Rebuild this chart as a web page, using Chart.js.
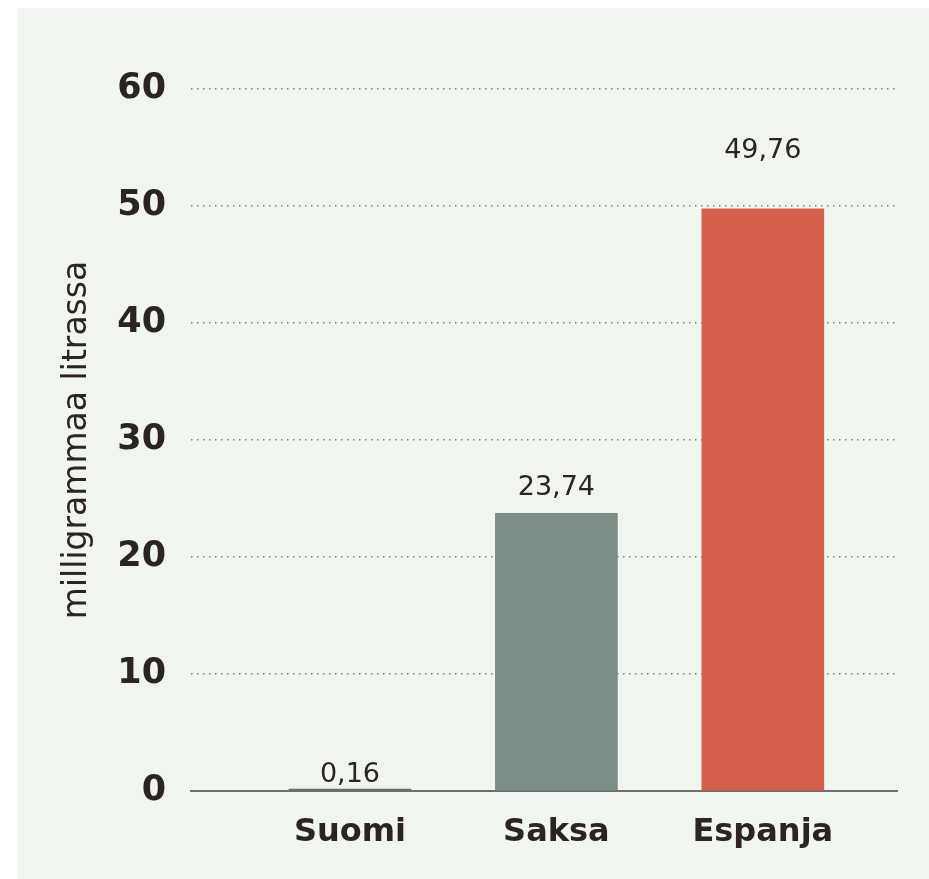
<!DOCTYPE html>
<html>
<head>
<meta charset="utf-8">
<script src="https://cdn.jsdelivr.net/npm/chart.js@4"></script>
<style>
  html, body { margin: 0; padding: 0; background: #ffffff; }
  #panel { position: absolute; left: 18px; top: 8px; width: 911px; height: 871px; background: #f0f5ee; }
</style>
</head>
<body>
<div id="panel"><canvas id="chart"></canvas></div>
<script>
// countries and measured amounts (mg per litre)
const categories = ['Suomi', 'Saksa', 'Espanja'];
const values = [0.16, 23.74, 49.76];
const barColors = ['#6e6f6c', '#7b8d84', '#d35f4d'];
const yTicks = [0, 10, 20, 30, 40, 50, 60];

const ink = '#2b2421';

// value labels above the bars, with a decimal comma
const valueLabels = {
    id: 'valueLabels',
    afterDatasetsDraw(chart, args, opts) {
        const ctx = chart.ctx;
        const meta = chart.getDatasetMeta(0);
        ctx.save();
        ctx.font = '27px "DejaVu Sans"';
        ctx.fillStyle = ink;
        ctx.textAlign = 'center';
        ctx.textBaseline = 'alphabetic';
        meta.data.forEach((bar, i) => {
            const txt = values[i].toFixed(2).replace('.', ',');
            ctx.fillText(txt, bar.x, bar.y - opts.gaps[i]);
        });
        ctx.restore();
    }
};

new Chart(document.getElementById('chart'), {
    type: 'bar',
    data: {
        datasets: [{
            data: values.map((v, i) => ({ x: i, y: v })),
            backgroundColor: barColors,
            borderWidth: 0,
            barThickness: 122
        }]
    },
    options: {
        responsive: true,
        maintainAspectRatio: false,
        animation: false,
        layout: { padding: { top: 81, right: 32, bottom: 0, left: 0 } },
        plugins: {
            legend: { display: false },
            tooltip: { enabled: false },
            valueLabels: { gaps: [7, 18, 51] }
        },
        scales: {
            x: {
                type: 'linear',
                offset: false,
                z: 1,
                min: -0.77,
                max: 2.65,
                afterBuildTicks: s => { s.ticks = categories.map((c, i) => ({ value: i })); },
                afterFit: s => { s.height = 88; },
                grid: { display: false, drawTicks: false },
                border: { display: true, color: '#6e6f6c', width: 2 },
                ticks: {
                    padding: 22,
                    color: ink,
                    font: { family: 'DejaVu Sans', size: 32, weight: 'bold' },
                    callback: v => categories[v]
                }
            },
            y: {
                min: 0,
                max: 60,
                afterBuildTicks: s => { s.ticks = yTicks.map(v => ({ value: v })); },
                afterFit: s => { s.width = 173; },
                // border.dash sets the dotted grid lines in v4
                border: { display: false, dash: [1.5, 4.5] },
                grid: {
                    drawTicks: false,
                    color: c => c.tick && c.tick.value === 0 ? 'rgba(0,0,0,0)' : '#7d7f7b',
                    lineWidth: 1.5
                },
                ticks: {
                    padding: 25,
                    color: ink,
                    font: { family: 'DejaVu Sans', size: 35, weight: 'bold' }
                },
                title: {
                    display: true,
                    text: 'milligrammaa litrassa',
                    color: ink,
                    font: { family: 'DejaVu Sans', size: 33 },
                    padding: { top: 40, bottom: 0 }
                }
            }
        }
    },
    plugins: [valueLabels]
});
</script>
</body>
</html>
